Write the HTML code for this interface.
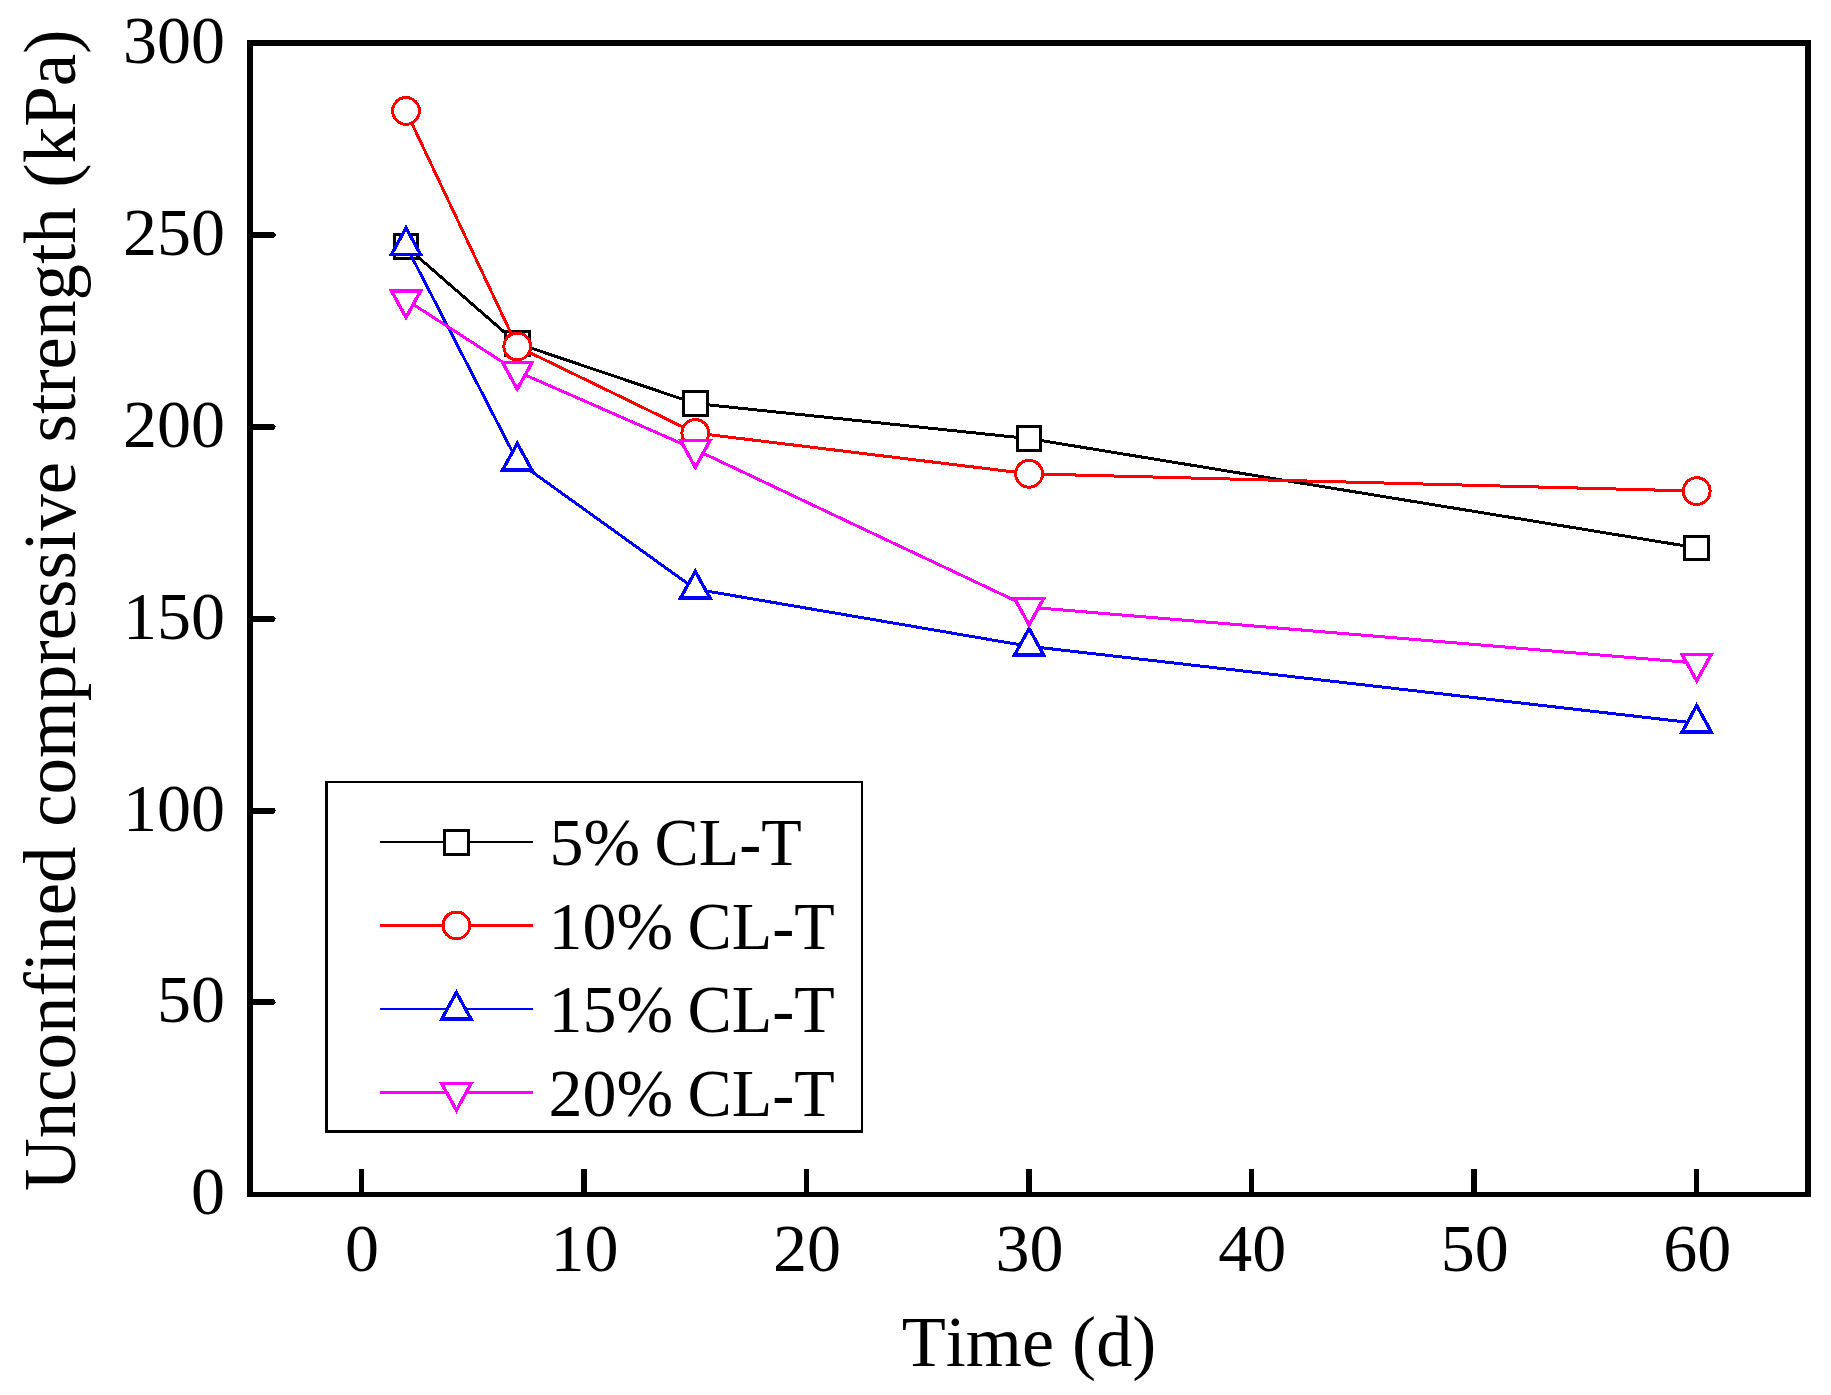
<!DOCTYPE html>
<html lang="en"><head><meta charset="utf-8"><title>Unconfined compressive strength vs time</title>
<style>
html,body{margin:0;padding:0;background:#fff;}
body{width:1831px;height:1395px;overflow:hidden;}
svg{display:block;}
text{font-family:"Liberation Serif","Times New Roman",serif;fill:#000;font-variant-ligatures:none;font-kerning:none;}
.tk{font-size:68px;}
.ti{font-size:73px;}
.lg{font-size:68px;}
</style></head><body>
<svg width="1831" height="1395" viewBox="0 0 1831 1395">
<rect x="0" y="0" width="1831" height="1395" fill="#fff"/>

<g shape-rendering="crispEdges" fill="none">
<polyline points="406.01,246.50 517.27,343.40 695.30,403.50 1029.10,438.60 1696.70,547.80" stroke="#000000" stroke-width="3.0" stroke-linejoin="round"/>
<rect x="394.21" y="234.70" width="23.6" height="23.6" fill="#fff" stroke="#000000" stroke-width="3.0"/>
<rect x="505.47" y="331.60" width="23.6" height="23.6" fill="#fff" stroke="#000000" stroke-width="3.0"/>
<rect x="683.50" y="391.70" width="23.6" height="23.6" fill="#fff" stroke="#000000" stroke-width="3.0"/>
<rect x="1017.30" y="426.80" width="23.6" height="23.6" fill="#fff" stroke="#000000" stroke-width="3.0"/>
<rect x="1684.90" y="536.00" width="23.6" height="23.6" fill="#fff" stroke="#000000" stroke-width="3.0"/>
<polyline points="406.01,110.90 517.27,346.50 695.30,433.00 1029.10,473.80 1696.70,491.10" stroke="#ff0000" stroke-width="3.0" stroke-linejoin="round"/>
<circle cx="406.01" cy="110.90" r="13.4" fill="#fff" stroke="#ff0000" stroke-width="3.0"/>
<circle cx="517.27" cy="346.50" r="13.4" fill="#fff" stroke="#ff0000" stroke-width="3.0"/>
<circle cx="695.30" cy="433.00" r="13.4" fill="#fff" stroke="#ff0000" stroke-width="3.0"/>
<circle cx="1029.10" cy="473.80" r="13.4" fill="#fff" stroke="#ff0000" stroke-width="3.0"/>
<circle cx="1696.70" cy="491.10" r="13.4" fill="#fff" stroke="#ff0000" stroke-width="3.0"/>
<polyline points="406.01,245.70 517.27,461.15 695.30,589.10 1029.10,646.30 1696.70,723.30" stroke="#0000ff" stroke-width="3.0" stroke-linejoin="round"/>
<polygon points="406.01,227.97 391.36,254.57 420.66,254.57" fill="#fff" stroke="#0000ff" stroke-width="3.4" stroke-linejoin="miter"/>
<polygon points="517.27,443.42 502.62,470.02 531.92,470.02" fill="#fff" stroke="#0000ff" stroke-width="3.4" stroke-linejoin="miter"/>
<polygon points="695.30,571.37 680.65,597.97 709.95,597.97" fill="#fff" stroke="#0000ff" stroke-width="3.4" stroke-linejoin="miter"/>
<polygon points="1029.10,628.57 1014.45,655.17 1043.75,655.17" fill="#fff" stroke="#0000ff" stroke-width="3.4" stroke-linejoin="miter"/>
<polygon points="1696.70,705.57 1682.05,732.17 1711.35,732.17" fill="#fff" stroke="#0000ff" stroke-width="3.4" stroke-linejoin="miter"/>
<polyline points="406.01,299.70 517.27,371.50 695.30,449.55 1029.10,607.20 1696.70,663.10" stroke="#ff00ff" stroke-width="3.0" stroke-linejoin="round"/>
<polygon points="406.01,317.43 391.36,290.83 420.66,290.83" fill="#fff" stroke="#ff00ff" stroke-width="3.4" stroke-linejoin="miter"/>
<polygon points="517.27,389.23 502.62,362.63 531.92,362.63" fill="#fff" stroke="#ff00ff" stroke-width="3.4" stroke-linejoin="miter"/>
<polygon points="695.30,467.28 680.65,440.68 709.95,440.68" fill="#fff" stroke="#ff00ff" stroke-width="3.4" stroke-linejoin="miter"/>
<polygon points="1029.10,624.93 1014.45,598.33 1043.75,598.33" fill="#fff" stroke="#ff00ff" stroke-width="3.4" stroke-linejoin="miter"/>
<polygon points="1696.70,680.83 1682.05,654.23 1711.35,654.23" fill="#fff" stroke="#ff00ff" stroke-width="3.4" stroke-linejoin="miter"/>
</g>
<g shape-rendering="crispEdges" fill="#000" stroke="none">
<rect x="247" y="40" width="6" height="1157"/>
<rect x="1805" y="40" width="6" height="1157"/>
<rect x="247" y="40" width="1564" height="6"/>
<rect x="247" y="1192" width="1564" height="5"/>
<rect x="358.75" y="1169" width="5.5" height="25"/>
<rect x="581.28" y="1169" width="5.5" height="25"/>
<rect x="803.82" y="1169" width="5.5" height="25"/>
<rect x="1026.35" y="1169" width="5.5" height="25"/>
<rect x="1248.88" y="1169" width="5.5" height="25"/>
<rect x="1471.42" y="1169" width="5.5" height="25"/>
<rect x="1693.95" y="1169" width="5.5" height="25"/>
<path d="M250 999.35H273.8L276 1002.35L273.8 1005.35H250Z"/>
<path d="M250 807.50H273.8L276 810.50L273.8 813.50H250Z"/>
<path d="M250 615.65H273.8L276 618.65L273.8 621.65H250Z"/>
<path d="M250 423.80H273.8L276 426.80L273.8 429.80H250Z"/>
<path d="M250 231.95H273.8L276 234.95L273.8 237.95H250Z"/>
</g>
<g class="tk" text-anchor="middle">
<text x="362.00" y="1271.3">0</text>
<text x="584.53" y="1271.3">10</text>
<text x="807.07" y="1271.3">20</text>
<text x="1029.60" y="1271.3">30</text>
<text x="1252.13" y="1271.3">40</text>
<text x="1474.67" y="1271.3">50</text>
<text x="1697.20" y="1271.3">60</text>
</g>
<g class="tk" text-anchor="end">
<text x="225" y="1214.20">0</text>
<text x="225" y="1022.35">50</text>
<text x="225" y="830.50">100</text>
<text x="225" y="638.65">150</text>
<text x="225" y="446.80">200</text>
<text x="225" y="254.95">250</text>
<text x="225" y="63.10">300</text>
</g>
<text class="ti" style="font-size:72.2px" text-anchor="middle" x="1029" y="1365.5">Time (d)</text>
<text class="ti" style="word-spacing:1.3px" text-anchor="start" transform="translate(75 1191) rotate(-90)">Unconfined compressive strength (kPa)</text>
<g shape-rendering="crispEdges" fill="none">
<rect x="325" y="781" width="538" height="352" fill="#000" stroke="none"/>
<rect x="328" y="783" width="533" height="347" fill="#fff" stroke="none"/>
<line x1="379.8" y1="841.9" x2="533" y2="841.9" stroke="#000000" stroke-width="2.2"/>
<rect x="444.60" y="830.60" width="23.6" height="23.6" fill="#fff" stroke="#000000" stroke-width="3.0"/>
<line x1="379.8" y1="925.4" x2="533" y2="925.4" stroke="#ff0000" stroke-width="3.0"/>
<circle cx="456.40" cy="925.40" r="13.4" fill="#fff" stroke="#ff0000" stroke-width="3.0"/>
<line x1="379.8" y1="1008.9" x2="533" y2="1008.9" stroke="#0000ff" stroke-width="2.0"/>
<polygon points="456.40,992.47 441.75,1019.07 471.05,1019.07" fill="#fff" stroke="#0000ff" stroke-width="3.4" stroke-linejoin="miter"/>
<line x1="379.8" y1="1092.5" x2="533" y2="1092.5" stroke="#ff00ff" stroke-width="3.0"/>
<polygon points="456.40,1110.23 441.75,1083.63 471.05,1083.63" fill="#fff" stroke="#ff00ff" stroke-width="3.4" stroke-linejoin="miter"/>
</g>
<g class="lg">
<text y="864.9"><tspan x="549.4">5% </tspan><tspan x="654.6" textLength="147.2" lengthAdjust="spacingAndGlyphs">CL-T</tspan></text>
<text y="948.6"><tspan x="548.6">10% </tspan><tspan x="687.5" textLength="147.2" lengthAdjust="spacingAndGlyphs">CL-T</tspan></text>
<text y="1032.0"><tspan x="548.6">15% </tspan><tspan x="687.5" textLength="147.2" lengthAdjust="spacingAndGlyphs">CL-T</tspan></text>
<text y="1115.5"><tspan x="548.6">20% </tspan><tspan x="687.5" textLength="147.2" lengthAdjust="spacingAndGlyphs">CL-T</tspan></text>
</g>
</svg></body></html>
